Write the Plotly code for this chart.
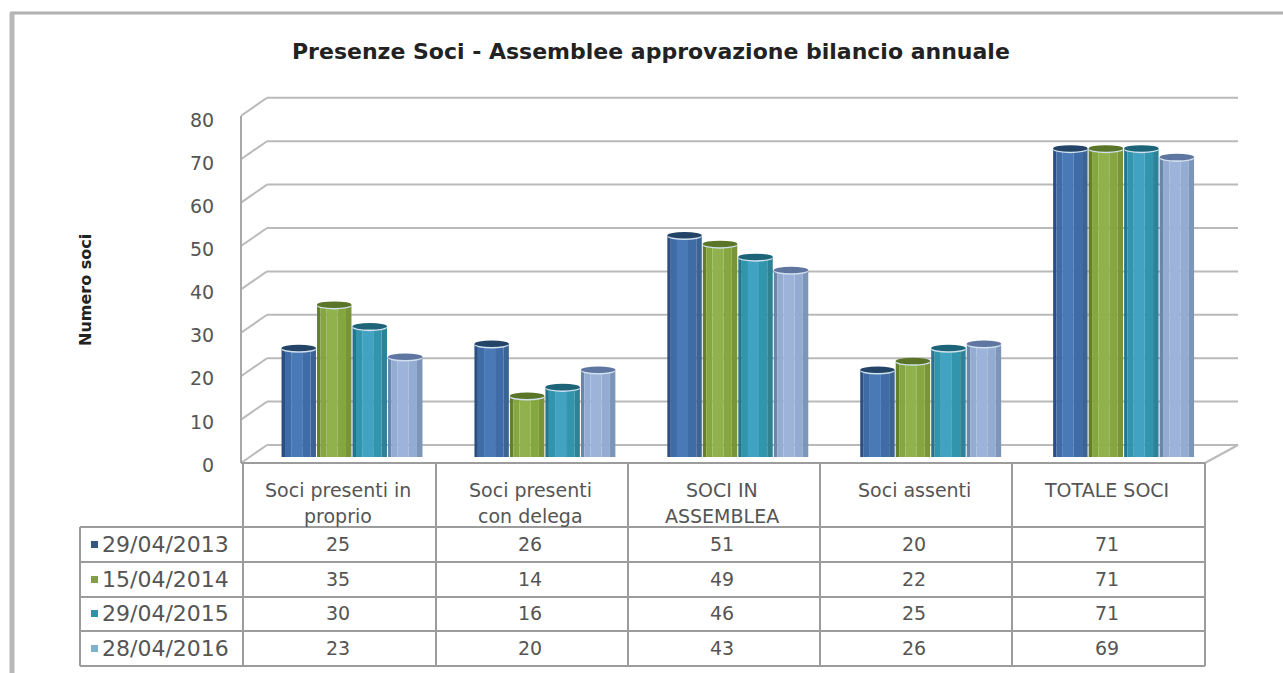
import plotly.graph_objects as go

categories = ["Soci presenti in<br>proprio", "Soci presenti<br>con delega", "SOCI IN<br>ASSEMBLEA", "Soci assenti", "TOTALE SOCI"]
dates = ["29/04/2013", "15/04/2014", "29/04/2015", "28/04/2016"]
s2013 = [25, 26, 51, 20, 71]
s2014 = [35, 14, 49, 22, 71]
s2015 = [30, 16, 46, 25, 71]
s2016 = [23, 20, 43, 26, 69]
series = [s2013, s2014, s2015, s2016]
y_ticks = [0, 10, 20, 30, 40, 50, 60, 70, 80]

# (edge-left, mid, highlight, edge-right, cap)
palettes = [
    ["#2a4f80", "#3f6ba6", "#4a79b8", "#3a6494", "#234467"],
    ["#64802c", "#86a63f", "#90b14b", "#7a9538", "#5a7428"],
    ["#23768c", "#3195ad", "#42a2c2", "#2c8298", "#1d6479"],
    ["#6c86a8", "#94abd2", "#9db3da", "#7d95b8", "#5f76a0"],
]
key_colors = ["#34587f", "#84a03e", "#2f93a8", "#7fb0cc"]

W, H = 1283, 673
L, R, T, B = 241, 1240, 90, 470
UNIT = 4.34          # pixels per value unit
CAT = 192.9          # pixels per category
X0 = 352             # pixel centre of the first group
PITCH = 35.5 / CAT   # bar pitch in category units
GRID = "#bababa"
TBL = "#9c9c9c"
TXT = "#555555"
FONT = "DejaVu Sans"


def px(x):
    return (x - L) / (R - L)


def py(y):
    return (B - y) / (B - T)


def xv(x):
    return (x - X0) / CAT


fig = go.Figure()

# invisible trace that keeps the labelled value axis alive
fig.add_scatter(x=[0, 0], y=[y_ticks[0], y_ticks[-1]], yaxis="y", mode="lines",
                opacity=0, showlegend=False, hoverinfo="skip")

# cylinder look: strips of colour across each bar
strips = [(0.00, 0.10, 0), (0.10, 0.28, 1), (0.28, 0.60, 2), (0.60, 0.84, 1), (0.84, 1.00, 3)]
xs = list(range(len(categories)))
bw = PITCH * 0.97
for i, vals in enumerate(series):
    left = (i - 2) * PITCH + (PITCH - bw) / 2
    for a, b, c in strips:
        fig.add_bar(
            x=xs, y=vals, yaxis="y2",
            width=bw * (b - a), offset=left + bw * a,
            marker=dict(color=palettes[i][c], line=dict(width=0)),
            name=dates[i], showlegend=False, hoverinfo="skip",
        )

shapes = []


def line(x0, y0, x1, y1, color=GRID, width=2, layer="below", xref="paper", yref="paper"):
    shapes.append(dict(type="line", x0=x0, y0=y0, x1=x1, y1=y1, xref=xref, yref=yref,
                       layer=layer, line=dict(color=color, width=width)))


# outer frame
line(px(10), py(13), px(W), py(13), color="#b0b0b0", width=3)
line(px(12), py(13), px(12), py(H), color="#b8b8b8", width=5)

# walls
for v in y_ticks:
    front = 463 - v * UNIT
    back = 445 - v * UNIT
    line(px(241), py(front), px(267), py(back))
    line(px(267), py(back), px(1238), py(back))
line(px(241), py(116), px(241), py(463), color="#a8a8a8")
# floor right edge
line(px(1205), py(463), px(1238), py(445))

# caps of the cylinders
for i, vals in enumerate(series):
    for j, v in enumerate(vals):
        c = j + (i - 1.5) * PITCH
        hw = bw / 2
        shapes.append(dict(type="circle", xref="x", yref="y2", layer="above",
                           x0=c - hw, x1=c + hw, y0=v - 1.0, y1=v + 0.7,
                           fillcolor="#cfe0ee", line=dict(width=0)))
        shapes.append(dict(type="circle", xref="x", yref="y2", layer="above",
                           x0=c - hw, x1=c + hw, y0=v - 0.65, y1=v + 0.85,
                           fillcolor=palettes[i][4], line=dict(width=0)))

# data table
cols = [243, 436, 628, 820, 1012, 1205]
rows = [527, 562, 597, 631, 666]
row_mid = [544, 579, 613, 648]
line(px(241), py(463), px(1205), py(463), color=TBL, layer="above")
for x in cols:
    line(px(x), py(463), px(x), py(rows[-1]), color=TBL, layer="above")
for y in rows:
    line(px(80), py(y), px(1205), py(y), color=TBL, layer="above")
line(px(80), py(rows[0]), px(80), py(rows[-1]), color=TBL, layer="above")

ann = []


def text(x, y, s, size=17, color=TXT, anchor="center", **kw):
    ann.append(dict(x=px(x), y=py(y), xref="paper", yref="paper", text=s, showarrow=False,
                    xanchor=anchor, yanchor="middle",
                    font=dict(family=FONT, size=size, color=color), **kw))


centers = [(cols[k] + cols[k + 1]) / 2 - 2 for k in range(5)]
for k, cat in enumerate(categories):
    for n, part in enumerate(cat.split("<br>")):
        text(centers[k], 490 + n * 26, part, size=19)

for r, d in enumerate(dates):
    shapes.append(dict(type="rect", xref="paper", yref="paper", layer="above",
                       x0=px(91), x1=px(98), y0=py(row_mid[r] - 3), y1=py(row_mid[r] + 4),
                       fillcolor=key_colors[r], line=dict(width=0)))
    text(100, row_mid[r], d, size=22, anchor="left")
    for k in range(5):
        text(centers[k], row_mid[r], str(series[r][k]), size=19)

text(651, 52, "<b>Presenze Soci - Assemblee approvazione bilancio annuale</b>", size=22, color="#222222")
text(85, 290, "<b>Numero soci</b>", size=16, color="#222222", textangle=-90)

# the value labels sit on a slightly tighter scale than the walls
LBL = 4.31
fig.update_layout(
    width=W, height=H, autosize=False,
    margin=dict(l=L, r=W - R, t=T, b=H - B, pad=0),
    paper_bgcolor="white", plot_bgcolor="rgba(0,0,0,0)",
    barmode="overlay", showlegend=False,
    shapes=shapes, annotations=ann,
    xaxis=dict(type="linear", range=[xv(L), xv(R)], visible=False, fixedrange=True),
    yaxis=dict(range=[(465 - B) / LBL, (465 - T) / LBL], tickvals=y_ticks,
               showgrid=False, zeroline=False, showline=False,
               ticks="outside", ticklen=22, tickcolor="rgba(0,0,0,0)",
               tickfont=dict(family=FONT, size=19, color=TXT), fixedrange=True),
    yaxis2=dict(range=[(457 - B) / UNIT, (457 - T) / UNIT], overlaying="y", side="left",
                visible=False, fixedrange=True),
)

fig.write_html("out.html", config={"displayModeBar": False},
               post_script="document.body.style.margin='0';document.body.style.overflow='hidden';")
